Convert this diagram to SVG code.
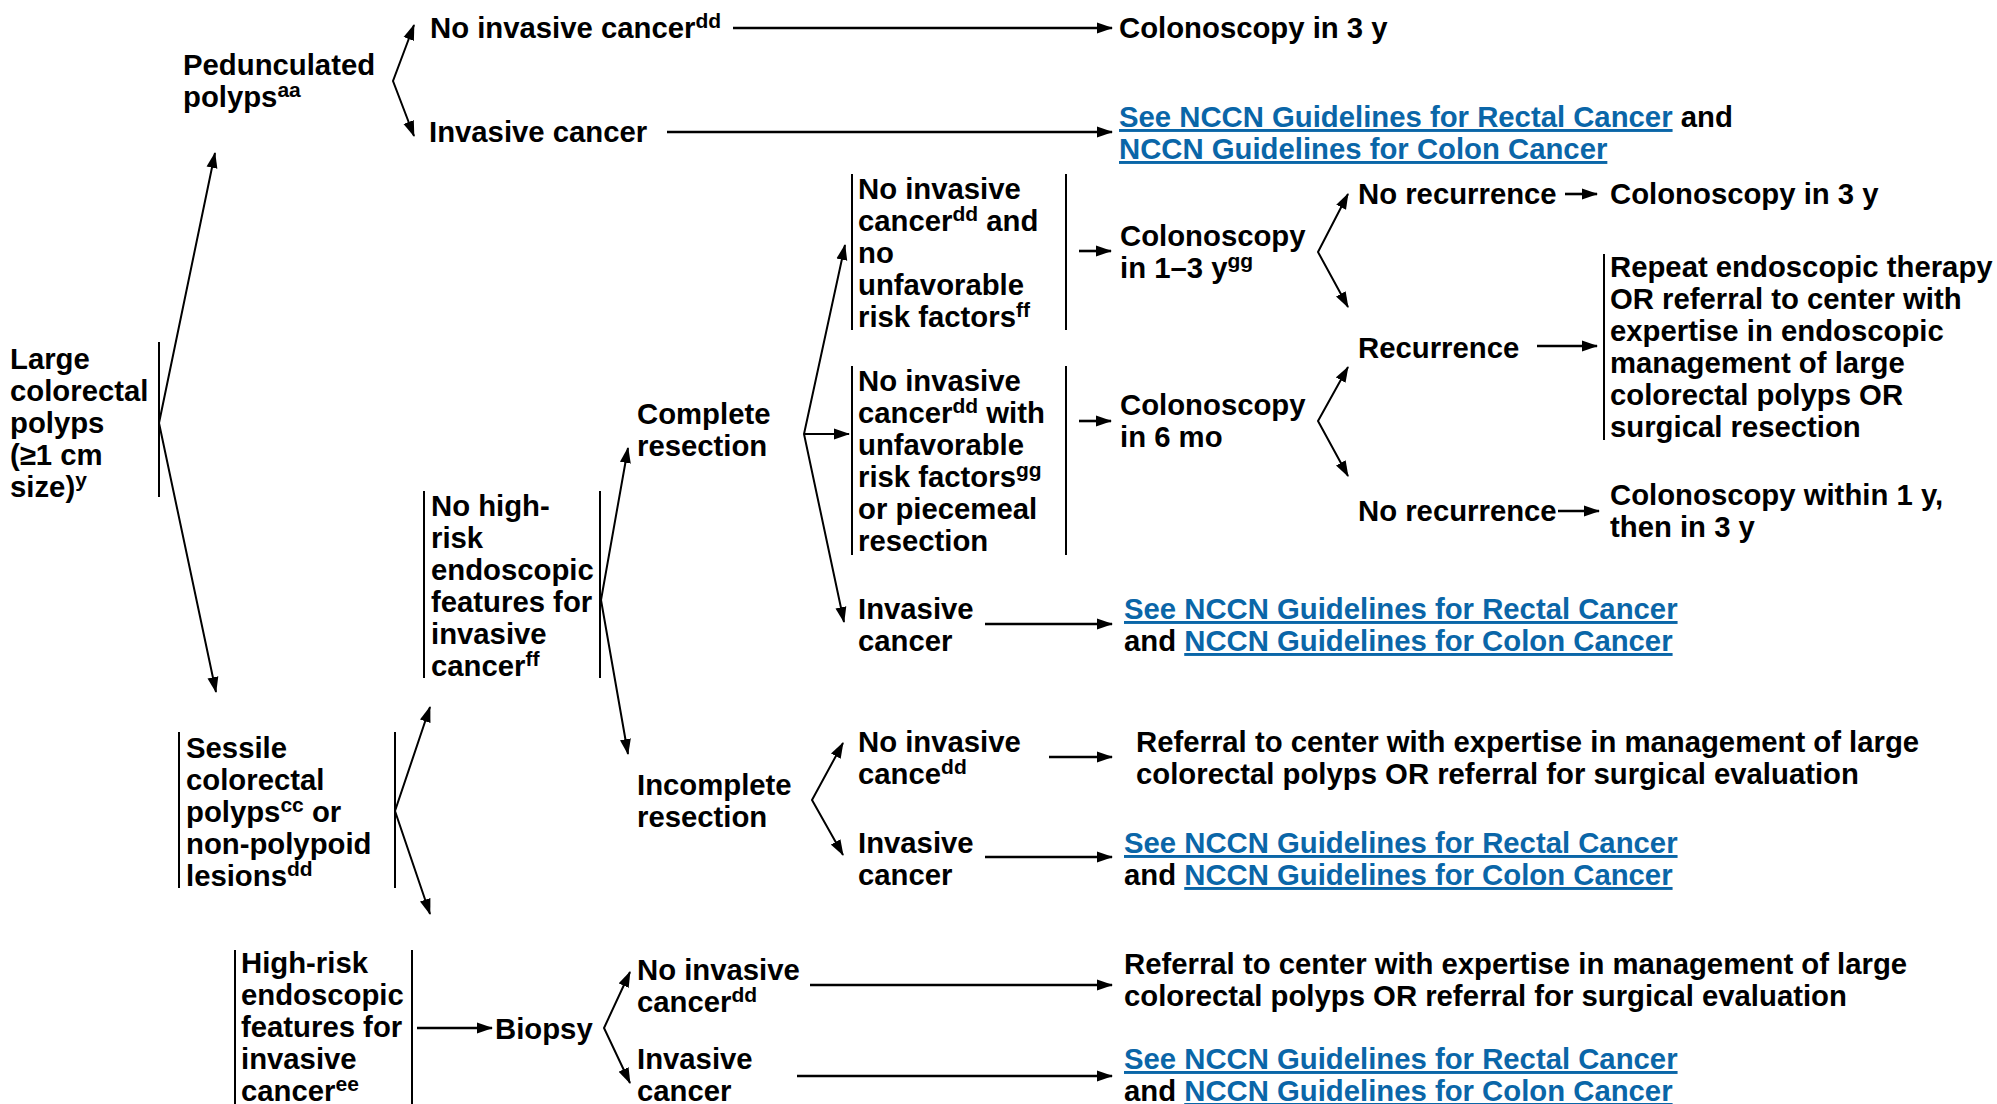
<svg xmlns="http://www.w3.org/2000/svg" width="1997" height="1104" viewBox="0 0 1997 1104">
<style>
.t{font-family:"Liberation Sans",Arial,Helvetica,sans-serif;font-weight:bold;font-size:29.3px;fill:#000}
.sup{font-size:21px}
.lk{fill:#0a66a8;text-decoration:underline}
.c{stroke:#000;stroke-width:2.6;fill:none}
.d{stroke:#000;stroke-width:2;fill:none}
.b{stroke:#000;stroke-width:2;fill:none}
</style>
<defs>
<marker id="ah" markerUnits="userSpaceOnUse" markerWidth="16" markerHeight="12" refX="15" refY="6" orient="auto-start-reverse" viewBox="0 0 16 12">
<path d="M0,0.5 L16,6 L0,11.5 z" fill="#000"/>
</marker>
</defs>
<rect width="1997" height="1104" fill="#fff"/>

<g id="connectors">
<polyline class="d" points="215,153 159,423 216,692" marker-start="url(#ah)" marker-end="url(#ah)"/>
<polyline class="d" points="414,25 393,81 414,136" marker-start="url(#ah)" marker-end="url(#ah)"/>
<line class="c" x1="733" y1="28" x2="1112" y2="28" marker-end="url(#ah)"/>
<line class="c" x1="667" y1="132" x2="1112" y2="132" marker-end="url(#ah)"/>
<polyline class="d" points="430,707 395,811 430,914" marker-start="url(#ah)" marker-end="url(#ah)"/>
<polyline class="d" points="628,448 601,600 628,754" marker-start="url(#ah)" marker-end="url(#ah)"/>
<polyline class="d" points="845,245 804,434 844,622" marker-start="url(#ah)" marker-end="url(#ah)"/>
<line class="d" x1="804" y1="434" x2="849" y2="434" marker-end="url(#ah)"/>
<line class="c" x1="1079" y1="251" x2="1111" y2="251" marker-end="url(#ah)"/>
<polyline class="d" points="1348,194 1318,252 1348,307" marker-start="url(#ah)" marker-end="url(#ah)"/>
<line class="c" x1="1565" y1="194" x2="1597" y2="194" marker-end="url(#ah)"/>
<line class="c" x1="1537" y1="346" x2="1597" y2="346" marker-end="url(#ah)"/>
<line class="c" x1="1079" y1="421" x2="1111" y2="421" marker-end="url(#ah)"/>
<polyline class="d" points="1348,367 1318,421 1348,476" marker-start="url(#ah)" marker-end="url(#ah)"/>
<line class="c" x1="1558" y1="511" x2="1599" y2="511" marker-end="url(#ah)"/>
<line class="c" x1="985" y1="624" x2="1112" y2="624" marker-end="url(#ah)"/>
<polyline class="d" points="843,743 812,800 843,855" marker-start="url(#ah)" marker-end="url(#ah)"/>
<line class="c" x1="1049" y1="757" x2="1112" y2="757" marker-end="url(#ah)"/>
<line class="c" x1="985" y1="857" x2="1112" y2="857" marker-end="url(#ah)"/>
<line class="c" x1="417" y1="1028" x2="492" y2="1028" marker-end="url(#ah)"/>
<polyline class="d" points="630,972 604,1028 630,1083" marker-start="url(#ah)" marker-end="url(#ah)"/>
<line class="c" x1="810" y1="985" x2="1112" y2="985" marker-end="url(#ah)"/>
<line class="c" x1="797" y1="1076" x2="1112" y2="1076" marker-end="url(#ah)"/>
</g>

<g id="n-large">
<line class="b" x1="159" y1="342" x2="159" y2="497"/>
<text class="t"><tspan x="10" y="369">Large</tspan><tspan x="10" y="401">colorectal</tspan><tspan x="10" y="433">polyps</tspan><tspan x="10" y="465">(≥1 cm</tspan><tspan x="10" y="497">size)</tspan><tspan class="sup" dy="-10">y</tspan></text>
</g>

<g id="n-pedunculated">
<text class="t"><tspan x="183" y="75">Pedunculated</tspan><tspan x="183" y="107">polyps</tspan><tspan class="sup" dy="-10">aa</tspan></text>
</g>

<g id="n-ped-noinv">
<text class="t"><tspan x="430" y="38">No invasive cancer</tspan><tspan class="sup" dy="-10">dd</tspan></text>
</g>
<g id="n-ped-colo3">
<text class="t" x="1119" y="38">Colonoscopy in 3 y</text>
</g>
<g id="n-ped-inv">
<text class="t" x="429" y="142">Invasive cancer</text>
</g>
<g id="n-ped-links">
<text class="t"><tspan x="1119" y="127" class="lk">See NCCN Guidelines for Rectal Cancer</tspan><tspan> and</tspan><tspan x="1119" y="159" class="lk">NCCN Guidelines for Colon Cancer</tspan></text>
</g>

<g id="n-sessile">
<line class="b" x1="179" y1="732" x2="179" y2="888"/>
<line class="b" x1="395" y1="732" x2="395" y2="888"/>
<text class="t"><tspan x="186" y="758">Sessile</tspan><tspan x="186" y="790">colorectal</tspan><tspan x="186" y="822">polyps</tspan><tspan class="sup" dy="-10">cc</tspan><tspan dy="10"> or</tspan><tspan x="186" y="854">non-polypoid</tspan><tspan x="186" y="886">lesions</tspan><tspan class="sup" dy="-10">dd</tspan></text>
</g>

<g id="n-nohighrisk">
<line class="b" x1="424" y1="491" x2="424" y2="678"/>
<line class="b" x1="600" y1="491" x2="600" y2="678"/>
<text class="t"><tspan x="431" y="516">No high-</tspan><tspan x="431" y="548">risk</tspan><tspan x="431" y="580">endoscopic</tspan><tspan x="431" y="612">features for</tspan><tspan x="431" y="644">invasive</tspan><tspan x="431" y="676">cancer</tspan><tspan class="sup" dy="-10">ff</tspan></text>
</g>

<g id="n-highrisk">
<line class="b" x1="235" y1="950" x2="235" y2="1104"/>
<line class="b" x1="412" y1="950" x2="412" y2="1104"/>
<text class="t"><tspan x="241" y="973">High-risk</tspan><tspan x="241" y="1005">endoscopic</tspan><tspan x="241" y="1037">features for</tspan><tspan x="241" y="1069">invasive</tspan><tspan x="241" y="1101">cancer</tspan><tspan class="sup" dy="-10">ee</tspan></text>
</g>

<g id="n-biopsy">
<text class="t" x="495" y="1039">Biopsy</text>
</g>

<g id="n-complete">
<text class="t"><tspan x="637" y="424">Complete</tspan><tspan x="637" y="456">resection</tspan></text>
</g>
<g id="n-incomplete">
<text class="t"><tspan x="637" y="795">Incomplete</tspan><tspan x="637" y="827">resection</tspan></text>
</g>

<g id="n-boxA">
<line class="b" x1="852" y1="174" x2="852" y2="330"/>
<line class="b" x1="1066" y1="174" x2="1066" y2="330"/>
<text class="t"><tspan x="858" y="199">No invasive</tspan><tspan x="858" y="231">cancer</tspan><tspan class="sup" dy="-10">dd</tspan><tspan dy="10"> and</tspan><tspan x="858" y="263">no</tspan><tspan x="858" y="295">unfavorable</tspan><tspan x="858" y="327">risk factors</tspan><tspan class="sup" dy="-10">ff</tspan></text>
</g>

<g id="n-boxB">
<line class="b" x1="852" y1="366" x2="852" y2="555"/>
<line class="b" x1="1066" y1="366" x2="1066" y2="555"/>
<text class="t"><tspan x="858" y="391">No invasive</tspan><tspan x="858" y="423">cancer</tspan><tspan class="sup" dy="-10">dd</tspan><tspan dy="10"> with</tspan><tspan x="858" y="455">unfavorable</tspan><tspan x="858" y="487">risk factors</tspan><tspan class="sup" dy="-10">gg</tspan><tspan x="858" y="519">or piecemeal</tspan><tspan x="858" y="551">resection</tspan></text>
</g>

<g id="n-comp-inv">
<text class="t"><tspan x="858" y="619">Invasive</tspan><tspan x="858" y="651">cancer</tspan></text>
</g>
<g id="n-comp-inv-links">
<text class="t"><tspan x="1124" y="619" class="lk">See NCCN Guidelines for Rectal Cancer</tspan><tspan x="1124" y="651">and </tspan><tspan class="lk">NCCN Guidelines for Colon Cancer</tspan></text>
</g>

<g id="n-colo13">
<text class="t"><tspan x="1120" y="246">Colonoscopy</tspan><tspan x="1120" y="278">in 1–3 y</tspan><tspan class="sup" dy="-10">gg</tspan></text>
</g>
<g id="n-colo6">
<text class="t"><tspan x="1120" y="415">Colonoscopy</tspan><tspan x="1120" y="447">in 6 mo</tspan></text>
</g>

<g id="n-norec1">
<text class="t" x="1358" y="204">No recurrence</text>
</g>
<g id="n-norec1-colo">
<text class="t" x="1610" y="204">Colonoscopy in 3 y</text>
</g>
<g id="n-rec">
<text class="t" x="1358" y="358">Recurrence</text>
</g>
<g id="n-repeat">
<line class="b" x1="1604" y1="254" x2="1604" y2="440"/>
<text class="t"><tspan x="1610" y="277">Repeat endoscopic therapy</tspan><tspan x="1610" y="309">OR referral to center with</tspan><tspan x="1610" y="341">expertise in endoscopic</tspan><tspan x="1610" y="373">management of large</tspan><tspan x="1610" y="405">colorectal polyps OR</tspan><tspan x="1610" y="437">surgical resection</tspan></text>
</g>
<g id="n-norec2">
<text class="t" x="1358" y="521">No recurrence</text>
</g>
<g id="n-norec2-colo">
<text class="t"><tspan x="1610" y="505">Colonoscopy within 1 y,</tspan><tspan x="1610" y="537">then in 3 y</tspan></text>
</g>

<g id="n-inc-noinv">
<text class="t"><tspan x="858" y="752">No invasive</tspan><tspan x="858" y="784">cance</tspan><tspan class="sup" dy="-10">dd</tspan></text>
</g>
<g id="n-inc-referral">
<text class="t"><tspan x="1136" y="752">Referral to center with expertise in management of large</tspan><tspan x="1136" y="784">colorectal polyps OR referral for surgical evaluation</tspan></text>
</g>
<g id="n-inc-inv">
<text class="t"><tspan x="858" y="853">Invasive</tspan><tspan x="858" y="885">cancer</tspan></text>
</g>
<g id="n-inc-inv-links">
<text class="t"><tspan x="1124" y="853" class="lk">See NCCN Guidelines for Rectal Cancer</tspan><tspan x="1124" y="885">and </tspan><tspan class="lk">NCCN Guidelines for Colon Cancer</tspan></text>
</g>

<g id="n-bio-noinv">
<text class="t"><tspan x="637" y="980">No invasive</tspan><tspan x="637" y="1012">cancer</tspan><tspan class="sup" dy="-10">dd</tspan></text>
</g>
<g id="n-bio-referral">
<text class="t"><tspan x="1124" y="974">Referral to center with expertise in management of large</tspan><tspan x="1124" y="1006">colorectal polyps OR referral for surgical evaluation</tspan></text>
</g>
<g id="n-bio-inv">
<text class="t"><tspan x="637" y="1069">Invasive</tspan><tspan x="637" y="1101">cancer</tspan></text>
</g>
<g id="n-bio-inv-links">
<text class="t"><tspan x="1124" y="1069" class="lk">See NCCN Guidelines for Rectal Cancer</tspan><tspan x="1124" y="1101">and </tspan><tspan class="lk">NCCN Guidelines for Colon Cancer</tspan></text>
</g>
</svg>
